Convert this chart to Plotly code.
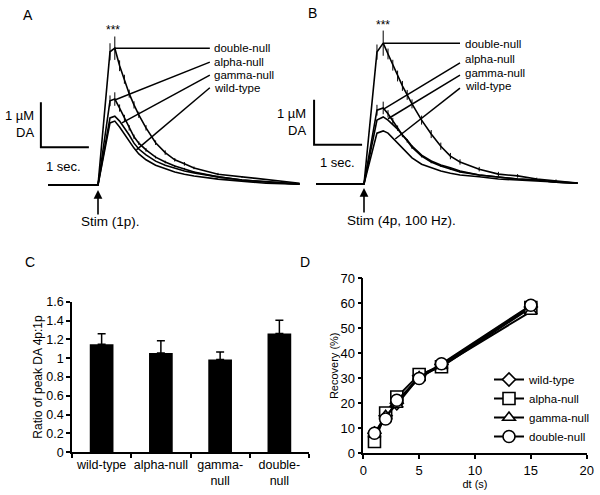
import plotly.graph_objects as go

FONT = "Liberation Sans, Arial, sans-serif"

# ---- panel A: single pulse, time (s) vs DA (uM)
t_a = [-1.04, 0, 0.25, 0.35, 0.45, 0.55, 0.65, 0.75, 0.85, 1.0, 1.2, 1.4,
       1.6, 1.8, 2.0, 2.5, 3.0, 3.5, 4.2]
dn_a = [0, 0, 2.96, 3.04, 2.65, 2.35, 2.03, 1.78, 1.56, 1.27, 0.94, 0.72,
        0.56, 0.47, 0.38, 0.24, 0.18, 0.11, 0.04]
alpha_a = [0, 0, 1.87, 1.91, 1.71, 1.49, 1.27, 1.07, 0.93, 0.78, 0.62, 0.51,
           0.42, 0.36, 0.29, 0.18, 0.11, 0.07, 0.02]
gamma_a = [0, 0, 1.49, 1.53, 1.42, 1.27, 1.11, 0.93, 0.80, 0.67, 0.53, 0.44,
           0.38, 0.31, 0.27, 0.18, 0.11, 0.07, 0.02]
wt_a = [0, 0, 1.38, 1.42, 1.29, 1.13, 0.98, 0.82, 0.69, 0.56, 0.44, 0.36,
        0.29, 0.24, 0.20, 0.13, 0.09, 0.04, 0.02]
dn_a_err = [0, 0, 0.19, 0.26, 0.12, 0.10, 0.09, 0.08, 0.07, 0.06, 0.05, 0.05,
            0.04, 0.04, 0.03, 0.03, 0.02, 0, 0]
alpha_a_err = [0, 0, 0.12, 0.15, 0.08, 0.07, 0.06, 0.05, 0.04, 0.04, 0.03,
               0.03, 0.02, 0.02, 0.02, 0, 0, 0, 0]

# ---- panel B: 4 pulses at 100 Hz
t_b = [-1.0, 0, 0.27, 0.4, 0.5, 0.6, 0.7, 0.8, 0.9, 1.0, 1.2, 1.4, 1.6, 1.8,
       2.0, 2.4, 2.8, 3.2, 3.6, 4.0, 4.45]
dn_b = [0, 0, 2.93, 3.13, 2.89, 2.64, 2.40, 2.18, 1.98, 1.78, 1.42, 1.11,
        0.84, 0.62, 0.49, 0.33, 0.22, 0.18, 0.11, 0.07, 0.02]
alpha_b = [0, 0, 1.64, 1.69, 1.56, 1.40, 1.24, 1.09, 0.96, 0.82, 0.62, 0.49,
           0.40, 0.33, 0.27, 0.20, 0.16, 0.11, 0.09, 0.04, 0.02]
gamma_b = [0, 0, 1.42, 1.49, 1.42, 1.33, 1.22, 1.09, 0.98, 0.84, 0.64, 0.51,
           0.42, 0.36, 0.29, 0.20, 0.16, 0.11, 0.09, 0.04, 0.02]
wt_b = [0, 0, 1.13, 1.18, 1.13, 1.02, 0.89, 0.78, 0.67, 0.58, 0.44, 0.36,
        0.29, 0.24, 0.20, 0.16, 0.11, 0.09, 0.07, 0.04, 0.02]
dn_b_err = [0, 0, 0.17, 0.28, 0.12, 0.12, 0.12, 0.11, 0.11, 0.10, 0.10, 0.09,
            0.08, 0.07, 0.06, 0.05, 0.05, 0.04, 0.03, 0.03, 0]
alpha_b_err = [0, 0, 0.12, 0.14, 0.08, 0.07, 0.06, 0.05, 0.04, 0.04, 0.03,
               0.03, 0.02, 0.02, 0.02, 0, 0, 0, 0, 0, 0]

# ---- panel C: ratio of peak DA 4p:1p
c_labels = ["wild-type", "alpha-null", "gamma-<br>null", "double-<br>null"]
ratio = [1.147, 1.054, 0.987, 1.263]
ratio_err = [0.112, 0.131, 0.078, 0.141]

# ---- panel D: recovery (%) vs dt (s)
dt = [1, 2, 3, 5, 7, 15]
rec_wt = [8.0, 15.0, 20.0, 31.0, 35.5, 58.5]
rec_alpha = [4.7, 16.1, 22.5, 31.5, 34.6, 58.3]
rec_gamma = [7.5, 15.0, 19.5, 30.5, 35.0, 56.7]
rec_dn = [8.0, 13.7, 21.2, 29.9, 35.8, 59.2]

genotypes = ["double-null", "alpha-null", "gamma-null", "wild-type"]

fig = go.Figure()


def trace_panel(t, ys, errs, xa, ya):
    for y, e in zip(ys, errs):
        fig.add_trace(
            go.Scatter(x=t, y=y, mode="lines", xaxis=xa, yaxis=ya,
                       line=dict(color="black", width=1.6),
                       error_y=dict(type="data", array=e, visible=e is not None,
                                    color="black", thickness=1, width=0),
                       showlegend=False, hoverinfo="skip"))


trace_panel(t_a, [wt_a, gamma_a, alpha_a, dn_a],
            [None, None, alpha_a_err, dn_a_err], "x", "y")
trace_panel(t_b, [wt_b, gamma_b, alpha_b, dn_b],
            [None, None, alpha_b_err, dn_b_err], "x2", "y2")

fig.add_trace(
    go.Bar(x=c_labels, y=ratio, xaxis="x3", yaxis="y3", width=0.4,
           marker=dict(color="black", line=dict(color="black", width=0)),
           error_y=dict(type="data", symmetric=False, array=ratio_err,
                        arrayminus=[0] * 4, color="black", thickness=1.5,
                        width=4),
           showlegend=False))

symbols = ["diamond", "square", "triangle-up", "circle"]
sizes = [10, 12, 11, 12]
for name, rec, sym, sz in zip(["wild-type", "alpha-null", "gamma-null", "double-null"],
                              [rec_wt, rec_alpha, rec_gamma, rec_dn],
                              symbols, sizes):
    fig.add_trace(
        go.Scatter(x=dt, y=rec, name=name, mode="lines+markers",
                   xaxis="x4", yaxis="y4",
                   line=dict(color="black", width=2),
                   marker=dict(symbol=sym, size=sz, color="white",
                               line=dict(color="black", width=1.6))))

shapes = []
# leader lines from traces to labels
lead_a = [((0.35, 3.04), (2.33, 3.04)), ((0.35, 1.89), (2.33, 2.73)),
          ((0.5, 1.38), (2.33, 2.44)), ((0.8, 0.78), (2.33, 2.16))]
lead_b = [((0.4, 3.13), (2.0, 3.13)), ((0.4, 1.66), (2.0, 2.69)),
          ((0.5, 1.45), (2.0, 2.42)), ((0.65, 1.0), (2.0, 2.13))]
for (x0, y0), (x1, y1) in lead_a:
    shapes.append(dict(type="line", xref="x", yref="y", x0=x0, y0=y0,
                       x1=x1, y1=y1, line=dict(color="black", width=1.5)))
for (x0, y0), (x1, y1) in lead_b:
    shapes.append(dict(type="line", xref="x2", yref="y2", x0=x0, y0=y0,
                       x1=x1, y1=y1, line=dict(color="black", width=1.5)))
# scale bars: 1 uM x 1 sec
for xr, yr, x0, y0 in [("x", "y", -1.19, 0.84), ("x2", "y2", -1.04, 0.87)]:
    shapes.append(dict(type="path", xref=xr, yref=yr,
                       path=f"M {x0},{y0 + 1} L {x0},{y0} L {x0 + 1},{y0}",
                       line=dict(color="black", width=2)))

ann = []


def text(x, y, s, xr="paper", yr="paper", size=11.5, xanchor="center", **kw):
    ann.append(dict(x=x, y=y, xref=xr, yref=yr, text=s, showarrow=False,
                    xanchor=xanchor, yanchor="middle",
                    font=dict(family=FONT, size=size, color="black"), **kw))


# panel letters
text(28 / 600, 1 - 15 / 495, "A", size=14)
text(313 / 600, 1 - 13 / 495, "B", size=14)
text(30 / 600, 1 - 262 / 495, "C", size=14)
text(305 / 600, 1 - 262 / 495, "D", size=14)

# panel A texts
for y, s in zip([3.04, 2.74, 2.44, 2.15], genotypes):
    text(2.38, y, s, "x", "y", xanchor="left")
text(0.31, 3.44, "***", "x", "y", size=12)
text(-1.29, 1.36, "1 µM<br>DA", "x", "y", size=13, xanchor="right",
     align="right")
text(-0.71, 0.42, "1 sec.", "x", "y", size=13)
text(0.27, -0.8, "Stim (1p).", "x", "y", size=13.5)

# panel B texts
for y, s in zip([3.11, 2.78, 2.47, 2.18], genotypes):
    text(2.06, y, s, "x2", "y2", xanchor="left")
text(0.4, 3.53, "***", "x2", "y2", size=12)
text(-1.17, 1.38, "1 µM<br>DA", "x2", "y2", size=13, xanchor="right",
     align="right")
text(-0.56, 0.47, "1 sec.", "x2", "y2", size=13)
text(0.79, -0.82, "Stim (4p, 100 Hz).", "x2", "y2", size=13.5)

# stimulus arrows
for xr, yr, yv in [("x", "y", -0.11), ("x2", "y2", -0.09)]:
    ann.append(dict(x=0, y=yv, xref=xr, yref=yr, ax=0, ay=26, text="",
                    showarrow=True, arrowhead=2, arrowsize=1.1,
                    arrowwidth=1.6, arrowcolor="black"))

hidden = dict(visible=False, showgrid=False, zeroline=False, automargin=False)
axis_style = dict(showline=True, linecolor="black", linewidth=1.5,
                  ticks="outside", ticklen=4, tickcolor="black",
                  tickwidth=1.5, showgrid=False, zeroline=False,
                  automargin=False, tickangle=0,
                  tickfont=dict(family=FONT, size=12.5, color="black"))

fig.update_layout(
    template="none",
    width=600, height=495,
    margin=dict(l=0, r=0, t=0, b=0, autoexpand=False),
    paper_bgcolor="white", plot_bgcolor="white",
    font=dict(family=FONT, color="black"),
    xaxis=dict(domain=[0, 0.5], range=[-98 / 48, 202 / 48], **hidden),
    yaxis=dict(domain=[0.5, 1], range=[-62.5 / 45, 185 / 45], **hidden),
    xaxis2=dict(domain=[0.5, 1], range=[-64 / 48, 236 / 48], **hidden),
    yaxis2=dict(domain=[0.5, 1], range=[-63.5 / 45, 184 / 45], **hidden),
    xaxis3=dict(domain=[72 / 600, 309 / 600], anchor="y3", tickson="boundaries",
                **axis_style),
    yaxis3=dict(domain=[1 - 452.3 / 495, 1 - 301.7 / 495], anchor="x3",
                range=[0, 1.6], dtick=0.2,
                title=dict(text="Ratio of peak DA 4p:1p", standoff=1,
                           font=dict(family=FONT, size=12)),
                **axis_style),
    xaxis4=dict(domain=[363.3 / 600, 586.7 / 600], anchor="y4", range=[0, 20],
                dtick=5, title=dict(text="dt (s)", standoff=4,
                                    font=dict(family=FONT, size=11)),
                **axis_style),
    yaxis4=dict(domain=[1 - 453.3 / 495, 1 - 278.3 / 495], anchor="x4",
                range=[0, 70], dtick=10,
                title=dict(text="Recovery (%)", standoff=0,
                           font=dict(family=FONT, size=11)),
                **axis_style),
    legend=dict(x=0.815, y=1 - 365 / 495, xanchor="left", yanchor="top",
                bgcolor="rgba(0,0,0,0)", tracegroupgap=0,
                font=dict(family=FONT, size=11.5, color="black")),
    shapes=shapes,
    annotations=ann,
)
fig.update_xaxes(tickfont_size=13, selector=dict(anchor="y4"))
fig.update_yaxes(tickfont_size=13, selector=dict(anchor="x4"))

fig.write_html("out.html", config={"displayModeBar": False},
               post_script="document.body.style.margin = '0';")
